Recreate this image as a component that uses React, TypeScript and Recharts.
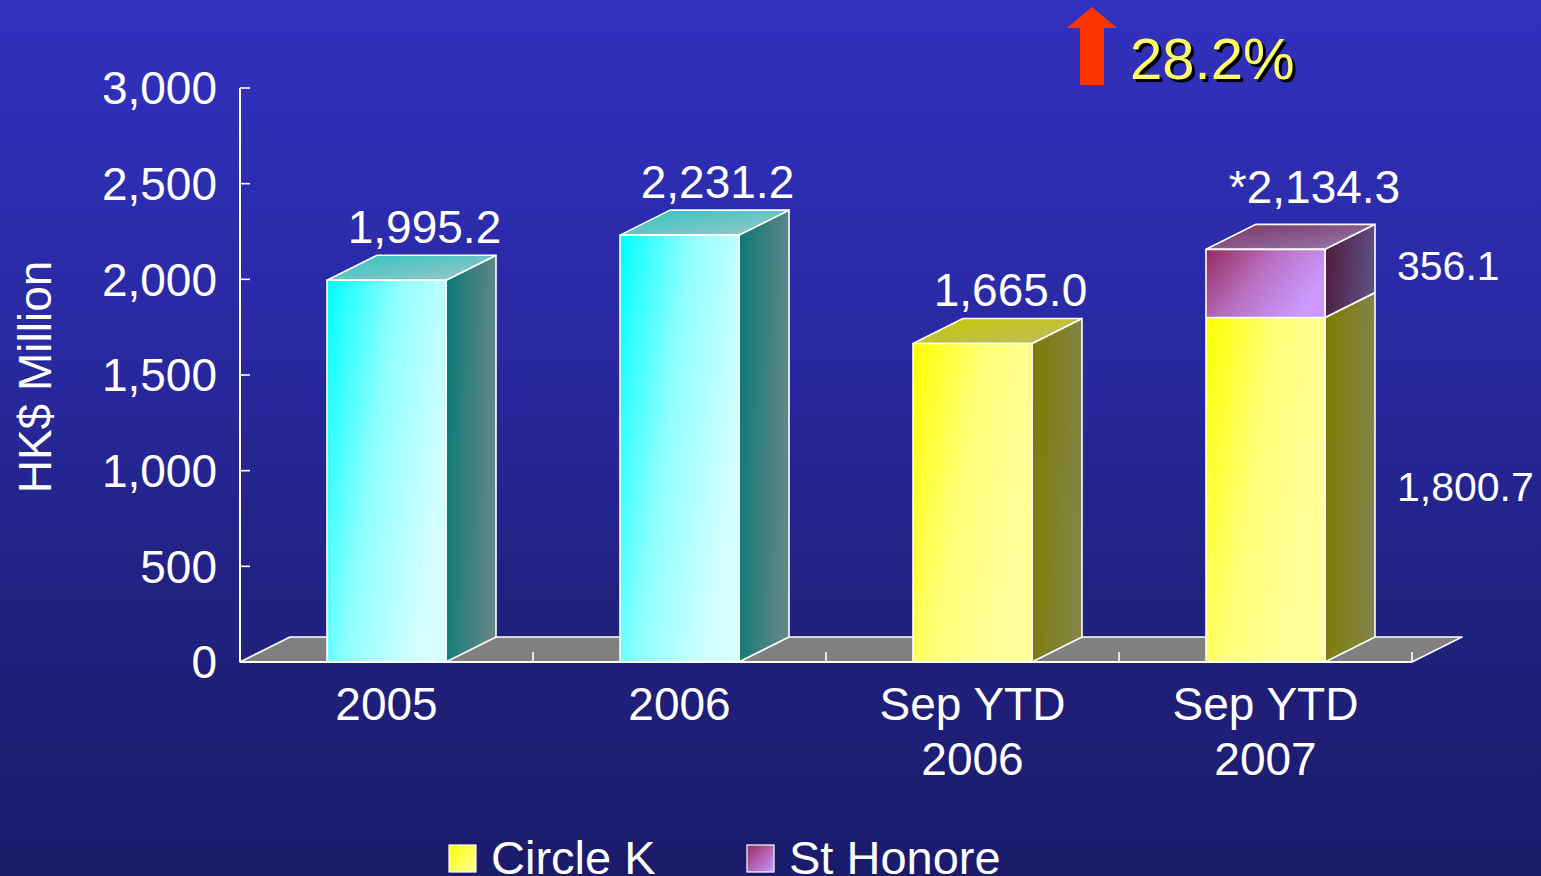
import React from 'react';
import { BarChart, Bar, XAxis, YAxis, ReferenceArea, LabelList, Legend, Label, Customized } from 'recharts';

// ---------------- data ----------------
const categories = ['2005', '2006', 'Sep YTD\n2006', 'Sep YTD\n2007'];
const circleKValues = [1995.2, 2231.2, 1665.0, 1800.7];
const stHonoreValues: (number | null)[] = [null, null, null, 356.1];
const totalLabels = ['1,995.2', '2,231.2', '1,665.0', '*2,134.3'];
const yTicks = [0, 500, 1000, 1500, 2000, 2500, 3000];
const seriesNames = ['Circle K', 'St Honore'];
const yAxisTitle = 'HK$ Million';
const growthLabel = '28.2%';

// ---------------- styles ----------------
const circleKThemes = ['cyan', 'cyan', 'yellow', 'yellow'];
const FONT = '"Liberation Sans", Arial, Helvetica, sans-serif';
const DX = 50;
const DY = 25;

const themes: Record<string, { front: string[]; side: string[]; top: string[] }> = {
  cyan: { front: ['#00ffff', '#90ffff', '#d4ffff'], side: ['#0a7a76', '#608686'], top: ['#2cc4c4', '#a0c6c6'] },
  yellow: { front: ['#ffff00', '#ffff78', '#ffff9c'], side: ['#7c7c00', '#848448'], top: ['#c8c800', '#bcbc66'] },
  purple: { front: ['#962a5e', '#b870c0', '#cc99ff'], side: ['#4c1a3a', '#604e82'], top: ['#7a3262', '#9a7cb2'] },
};

const fmt = (v: number) =>
  v.toLocaleString('en-US', { minimumFractionDigits: 1, maximumFractionDigits: 1 });

const data = categories.map((name, i) => {
  const sh = stHonoreValues[i];
  const stacked = sh != null;
  return {
    name,
    circleK: circleKValues[i],
    stHonore: sh,
    ckTop: stacked ? undefined : totalLabels[i],
    ckSide: stacked ? fmt(circleKValues[i]) : undefined,
    shTop: stacked ? totalLabels[i] : undefined,
    shSide: stacked && sh != null ? fmt(sh) : undefined,
  };
});

function makeBox(series: string) {
  return (props: any) => {
    const { x, y, width, height } = props;
    if (!height || height <= 0 || !width) return null;
    let idx = props.index;
    if (idx == null) idx = categories.indexOf(props.payload?.name);
    const key = series === 'stHonore' ? 'purple' : circleKThemes[idx] || 'yellow';
    const t = themes[key];
    const id = `g-${series}-${idx}`;
    const front = `M${x},${y} h${width} v${height} h${-width} Z`;
    const side = `M${x + width},${y} l${DX},${-DY} v${height} l${-DX},${DY} Z`;
    const top = `M${x},${y} l${DX},${-DY} h${width} l${-DX},${DY} Z`;
    return (
      <g>
        <defs>
          <linearGradient id={`${id}-f`} x1="0" y1="0" x2="1" y2="0.45">
            <stop offset="0" stopColor={t.front[0]} />
            <stop offset="0.5" stopColor={t.front[1]} />
            <stop offset="1" stopColor={t.front[2]} />
          </linearGradient>
          <linearGradient id={`${id}-s`} x1="0" y1="0" x2="1" y2="0.15">
            <stop offset="0" stopColor={t.side[0]} />
            <stop offset="1" stopColor={t.side[1]} />
          </linearGradient>
          <linearGradient id={`${id}-t`} x1="0" y1="0" x2="1" y2="1">
            <stop offset="0" stopColor={t.top[0]} />
            <stop offset="1" stopColor={t.top[1]} />
          </linearGradient>
        </defs>
        <path d={side} fill={`url(#${id}-s)`} stroke="#fff" strokeWidth={1.6} strokeLinejoin="round" />
        <path d={top} fill={`url(#${id}-t)`} stroke="#fff" strokeWidth={1.6} strokeLinejoin="round" />
        <path d={front} fill={`url(#${id}-f)`} stroke="#fff" strokeWidth={1.6} strokeLinejoin="round" />
      </g>
    );
  };
}

const makeTopLabel = (offX: number, gap: number) => (props: any) => {
  const { x, y, width, value } = props;
  if (value == null || value === '') return null;
  return (
    <text x={x + width / 2 + offX} y={y - DY - gap} textAnchor="middle" fill="#fff" fontSize={46} fontFamily={FONT}>
      {value}
    </text>
  );
};

const makeSideLabel = (offY: number) => (props: any) => {
  const { x, y, width, height, value } = props;
  if (value == null || value === '') return null;
  return (
    <text
      x={x + width + DX + 22}
      y={y + height / 2 + offY}
      dy="0.355em"
      textAnchor="start"
      fill="#fff"
      fontSize={41}
      fontFamily={FONT}
    >
      {value}
    </text>
  );
};

const Floor = (props: any) => {
  const { x, y, width, height } = props;
  const by = y + height;
  const n = categories.length;
  const d = `M${x},${by} L${x + DX},${by - DY} H${x + width + DX} L${x + width},${by} Z`;
  return (
    <g>
      <path d={d} fill="#808080" stroke="#fff" strokeWidth={1.6} strokeLinejoin="round" />
      {categories.map((_, i) => {
        const tx = x + (width * (i + 1)) / n;
        return <line key={i} x1={tx} y1={by} x2={tx} y2={by - 10} stroke="#fff" strokeWidth={1.6} />;
      })}
    </g>
  );
};

const YTick = (props: any) => {
  const { x, y, payload } = props;
  return (
    <g>
      <line x1={x + 23} y1={y} x2={x + 33} y2={y} stroke="#fff" strokeWidth={1.6} />
      <text x={x} y={y} dy="0.355em" textAnchor="end" fill="#fff" fontSize={46} fontFamily={FONT}>
        {Number(payload.value).toLocaleString('en-US')}
      </text>
    </g>
  );
};

const XTick = (props: any) => {
  const { x, y, payload } = props;
  const lines = String(payload.value).split('\n');
  return (
    <text x={x} y={y} textAnchor="middle" fill="#fff" fontSize={46} fontFamily={FONT}>
      {lines.map((l, i) => (
        <tspan key={i} x={x} dy={i === 0 ? 58 : 55}>
          {l}
        </tspan>
      ))}
    </text>
  );
};

const YTitle = (props: any) => {
  const vb = props.viewBox || { x: 0, y: 88, width: 240, height: 574 };
  const cx = vb.x + 35;
  const cy = vb.y + vb.height / 2 + 2;
  return (
    <text
      x={cx}
      y={cy}
      dy="0.355em"
      transform={`rotate(-90 ${cx} ${cy})`}
      textAnchor="middle"
      fill="#fff"
      fontSize={46}
      fontFamily={FONT}
    >
      {yAxisTitle}
    </text>
  );
};

const LegendContent = () => {
  const items = [
    { name: seriesNames[0], theme: themes.yellow, sx: 449, tx: 491 },
    { name: seriesNames[1], theme: themes.purple, sx: 747, tx: 789 },
  ];
  return (
    <svg width={1541} height={38} style={{ display: 'block', overflow: 'visible' }}>
      <defs>
        {items.map((it, i) => (
          <linearGradient key={i} id={`leg-${i}`} x1="0" y1="0" x2="1" y2="1">
            <stop offset="0" stopColor={it.theme.front[0]} />
            <stop offset="1" stopColor={it.theme.front[2]} />
          </linearGradient>
        ))}
      </defs>
      {items.map((it, i) => (
        <g key={i}>
          <rect x={it.sx} y={7} width={27} height={27} fill={`url(#leg-${i})`} stroke="#fff" strokeWidth={1.2} />
          <text x={it.tx} y={36} fill="#fff" fontSize={47} fontFamily={FONT}>
            {it.name}
          </text>
        </g>
      ))}
    </svg>
  );
};

const Annotation = () => (
  <g>
    <path d="M1092,7 L1117,28 H1104 V85 H1080 V28 H1067 Z" fill="#ff3300" />
    <text x={1133} y={82} fill="#000" fontSize={58} fontFamily={FONT}>
      {growthLabel}
    </text>
    <text x={1130} y={79} fill="#ffff66" fontSize={58} fontFamily={FONT}>
      {growthLabel}
    </text>
  </g>
);

export default function App() {
  return (
    <div
      style={{
        position: 'absolute',
        left: 0,
        top: 0,
        width: 1541,
        height: 876,
        overflow: 'hidden',
        background: 'linear-gradient(180deg, #3131bf 0%, #2a2aa6 35%, #212180 70%, #1b1b6b 100%)',
      }}
    >
      <BarChart
        width={1541}
        height={876}
        data={data}
        margin={{ top: 88, right: 129, bottom: 0, left: 0 }}
        barSize={119}
      >
        <XAxis
          dataKey="name"
          height={214}
          axisLine={{ stroke: '#fff', strokeWidth: 2 }}
          tickLine={false}
          tickSize={0}
          tickMargin={0}
          tick={<XTick />}
          interval={0}
        />
        <YAxis
          width={240}
          domain={[0, 3000]}
          ticks={yTicks}
          axisLine={{ stroke: '#fff', strokeWidth: 2 }}
          tickLine={false}
          tickSize={0}
          tickMargin={23}
          tick={<YTick />}
          interval={0}
        >
          <Label content={YTitle} />
        </YAxis>
        <ReferenceArea y1={0} y2={3000} shape={Floor} ifOverflow="visible" />
        <Bar dataKey="circleK" stackId="s" name={seriesNames[0]} shape={makeBox('circleK')} isAnimationActive={false}>
          <LabelList dataKey="ckTop" content={makeTopLabel(38, 12)} />
          <LabelList dataKey="ckSide" content={makeSideLabel(-3)} />
        </Bar>
        <Bar dataKey="stHonore" stackId="s" name={seriesNames[1]} shape={makeBox('stHonore')} isAnimationActive={false}>
          <LabelList dataKey="shTop" content={makeTopLabel(49, 21)} />
          <LabelList dataKey="shSide" content={makeSideLabel(-18)} />
        </Bar>
        <Legend
          layout="horizontal"
          verticalAlign="middle"
          align="center"
          wrapperStyle={{ position: 'absolute', top: 838, left: 0, width: 1541, height: 38 }}
          content={LegendContent}
        />
        <Customized component={Annotation} />
      </BarChart>
    </div>
  );
}
